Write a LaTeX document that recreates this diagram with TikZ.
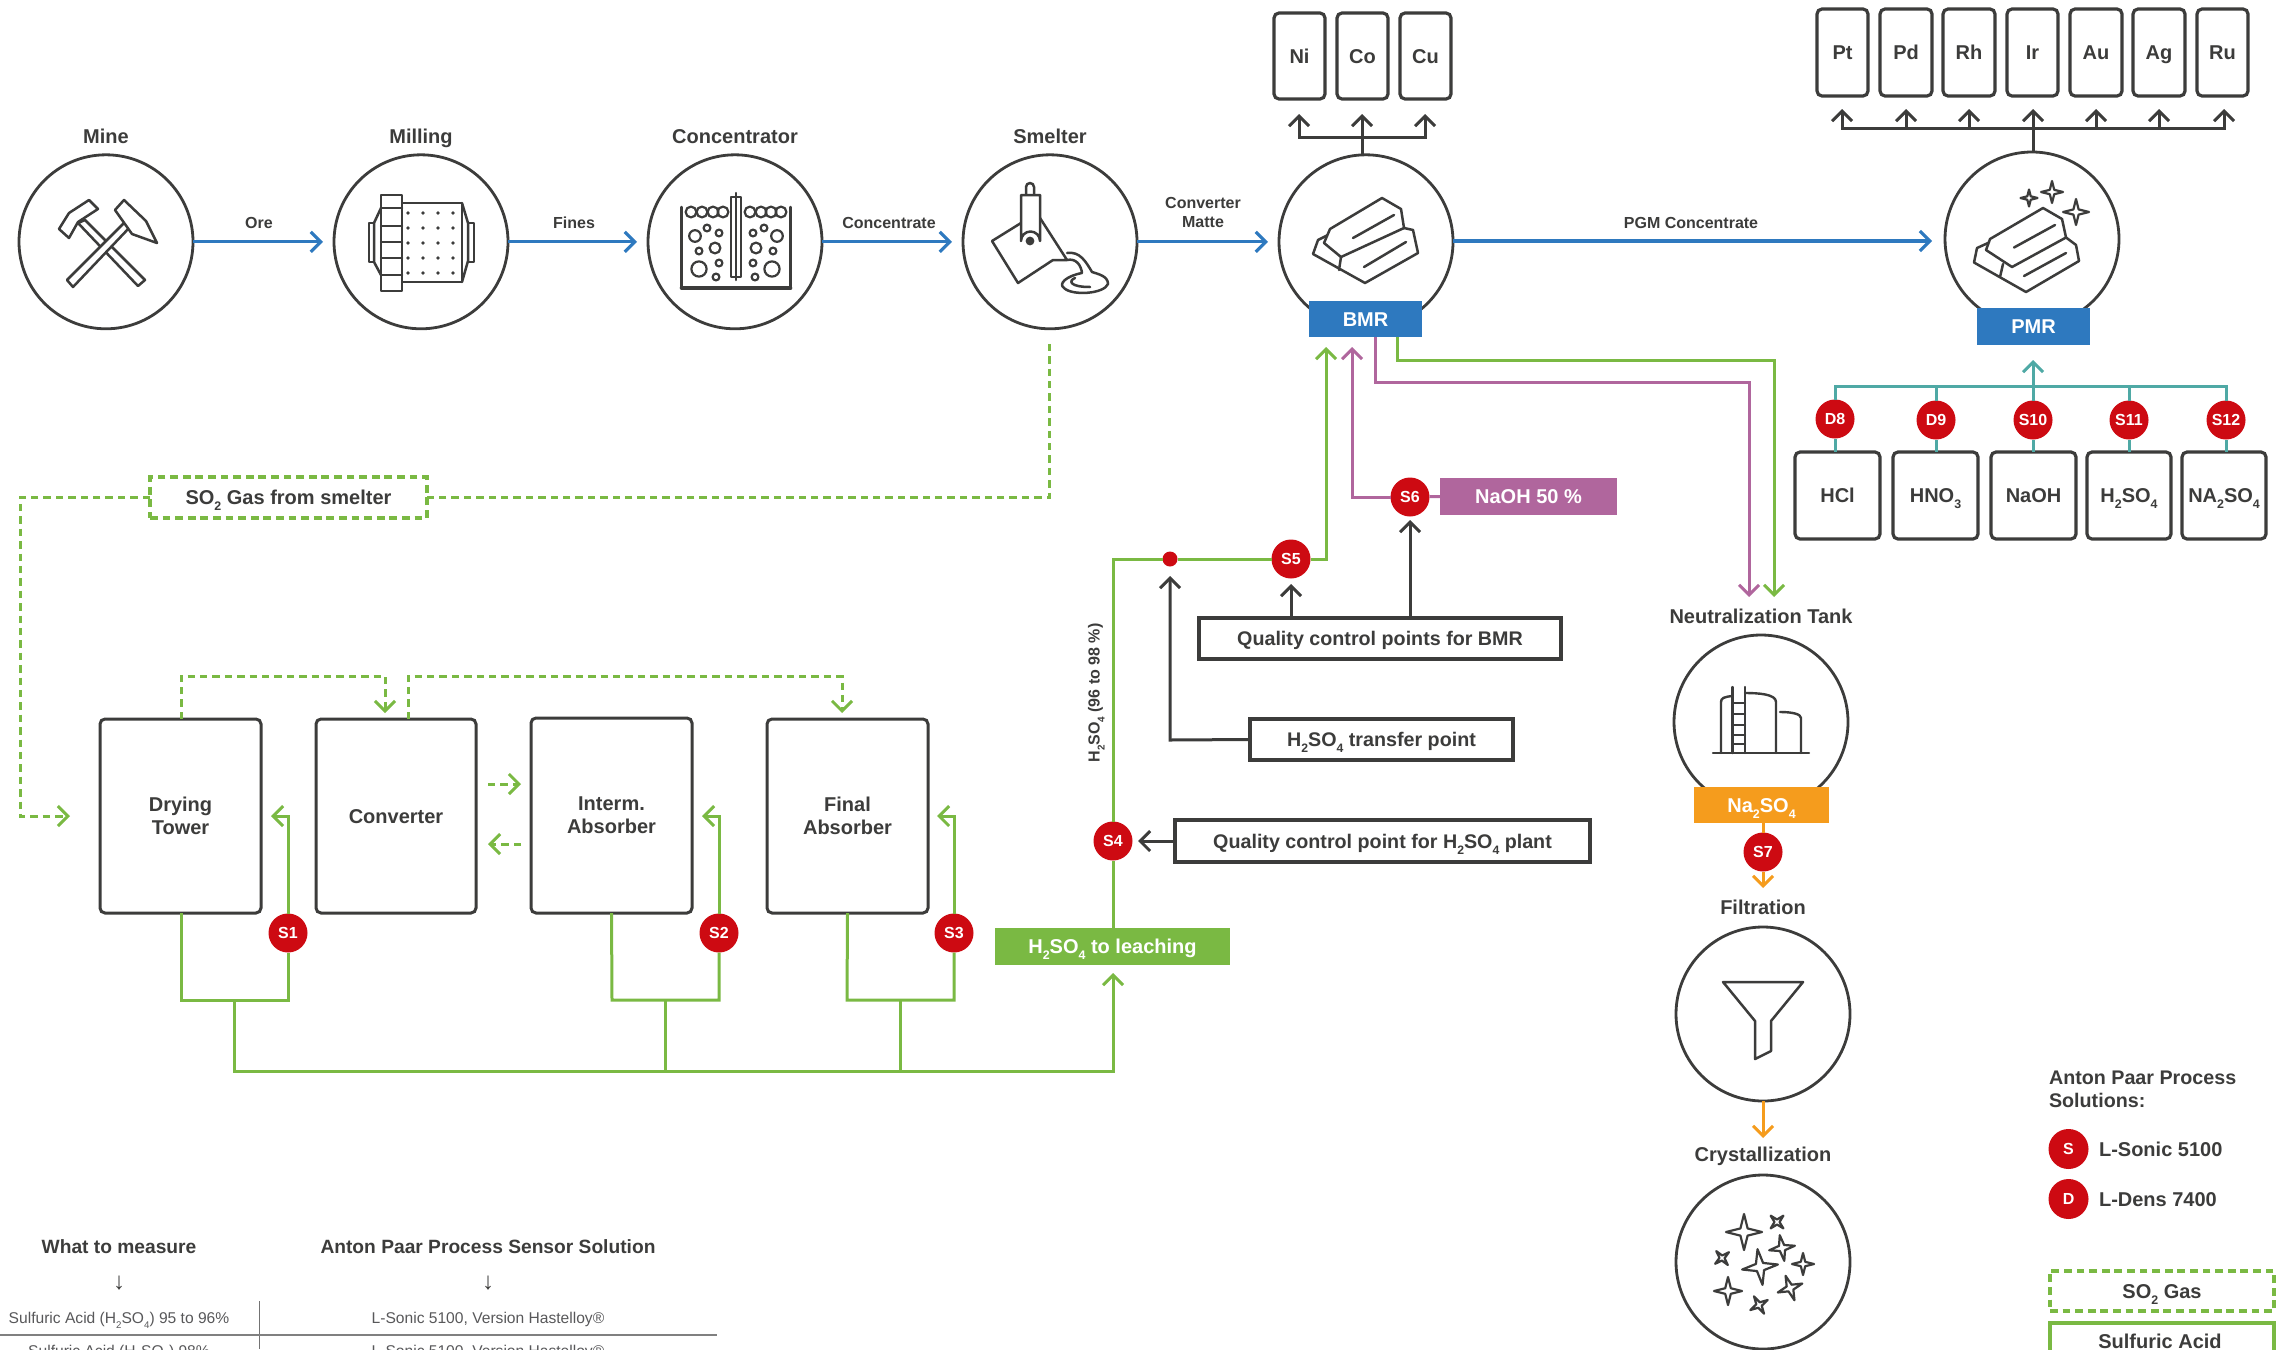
\documentclass[tikz,border=0pt]{standalone}
\usepackage{graphicx}
\usepackage{fontspec}
\setmainfont{Liberation Sans}
\usetikzlibrary{arrows.meta}
\definecolor{dk}{HTML}{3C3C3B}
\definecolor{bl}{HTML}{2E79BF}
\definecolor{gr}{HTML}{7AB943}
\definecolor{pu}{HTML}{B0669D}
\definecolor{og}{HTML}{F59C1D}
\definecolor{rd}{HTML}{CD0A12}
\definecolor{te}{HTML}{4FA9A5}
\definecolor{tb}{HTML}{58585A}
\newcommand\fs[1]{\fontsize{#1}{#1}\selectfont}
\newcommand\ssub[1]{\raisebox{-.3em}{\scalebox{.62}{#1}}}
\tikzset{
  every node/.style={inner sep=0pt,outer sep=0pt,text=dk},
  one/.style={text height=7.1pt,text depth=0pt},
  ones/.style={text height=5.7pt,text depth=0pt},
  barb/.style={-{Straight Barb[length=5pt,width=10pt]}},
  proc/.style={circle,draw=dk,line width=1.4pt,fill=white,minimum size=87pt},
  ttl/.style={font=\bfseries\fs{10},align=center},
  lbl/.style={font=\bfseries\fs{8},align=center},
  gbox/.style={draw=dk,line width=1.6pt,rounded corners=2.5pt,fill=white,font=\bfseries\fs{10},align=center},
  qbox/.style={draw=dk,line width=1.7pt,fill=white,font=\bfseries\fs{9.85},align=center},
  tag/.style={font=\bfseries\fs{10},text=white,align=center},
  badge/.style={circle,fill=rd,minimum size=19.5pt,font=\bfseries\fs{8},text=white},
  bline/.style={draw=bl,line width=1.6pt,barb},
  gline/.style={draw=gr,line width=1.5pt},
  gdash/.style={draw=gr,line width=1.5pt,dash pattern=on 3.7pt off 2.5pt},
  gdbox/.style={draw=gr,line width=1.9pt,dash pattern=on 3.9pt off 2.4pt,fill=white,font=\bfseries\fs{10},align=center},
  pline/.style={draw=pu,line width=1.5pt},
  oline/.style={draw=og,line width=1.5pt},
  tline/.style={draw=te,line width=1.5pt},
  dline/.style={draw=dk,line width=1.5pt},
  icon/.style={draw=dk,line width=1.25pt,line join=round,line cap=round},
  tbh/.style={font=\bfseries\fs{9.6},text=dk},
  tbb/.style={font=\fs{7.8},text=tb}
}
\newcommand\cbox[7]{\node[#1,minimum width={(#5-#3)*0.5pt},minimum height={(#6-#4)*0.5pt}] (#2) at ({(#3+#5)/2},{(#4+#6)/2}) {#7};}
\newcommand\sparkle[4]{\begin{scope}[shift={(#1,#2)},rotate=#4]
\draw[icon,line width=1.1pt] (#3,0) -- ({.2*#3},{.2*#3}) -- (0,#3) -- ({-.2*#3},{.2*#3}) -- (-#3,0) -- ({-.2*#3},{-.2*#3}) -- (0,-#3) -- ({.2*#3},{-.2*#3}) -- cycle;
\end{scope}}
\begin{document}
\begin{tikzpicture}[x=0.5pt,y=-0.5pt]
\useasboundingbox (0,0) rectangle (2278,1349);
\clip (0,0) rectangle (2278,1349);
% process circles
\node[proc] (mine) at (106,241.8) {};
\node[proc] (mill) at (421,241.8) {};
\node[proc] (conc) at (735,241.8) {};
\node[proc] (smel) at (1050,241.8) {};
\node[proc] (bmr) at (1366,241.8) {};
\node[proc] (pmr) at (2032,239) {};
\node[proc] (neut) at (1761,722) {};
\node[proc] (filt) at (1763,1014) {};
\node[proc] (crys) at (1763,1262) {};
% titles
\node[ttl,one] (tmine) at (106,136) {Mine};
\node[ttl,one] (tmill) at (421,136) {Milling};
\node[ttl,one] (tconc) at (735,136) {Concentrator};
\node[ttl,one] (tsmel) at (1050,136) {Smelter};
\node[ttl,one] (tneut) at (1761,616) {Neutralization Tank};
\node[ttl,one] (tfilt) at (1763,907) {Filtration};
\node[ttl,one] (tcrys) at (1763,1154) {Crystallization};
% blue flow
\draw[bline,shorten >=5.5pt] (mine) -- (mill);
\draw[bline,shorten >=5.5pt] (mill) -- (conc);
\draw[bline,shorten >=5.5pt] (conc) -- (smel);
\draw[bline,shorten >=5.5pt] (smel) -- (bmr);
\coordinate (pmrin) at (1932,241);
\draw[bline] (bmr.east) ++(0,-0.8) -- (pmrin);
\node[lbl,ones] (lore) at (259,223) {Ore};
\node[lbl,ones] (lfin) at (574,223) {Fines};
\node[lbl,ones] (lcon) at (889,223) {Concentrate};
\node[lbl] (lmat) at (1203,212.5) {Converter\\[1.5pt]Matte};
\node[lbl,ones] (lpgm) at (1691,223) {PGM Concentrate};
% tags
\cbox{fill=bl,tag,one}{bmrtag}{1309}{301}{1422}{337}{BMR}
\cbox{fill=bl,tag,one}{pmrtag}{1977}{308}{2090}{345}{PMR}
\cbox{fill=og,tag,one}{natag}{1694}{787}{1829}{823}{Na\ssub{2}SO\ssub{4}}
\cbox{fill=pu,tag,one}{naoh}{1440}{478}{1617}{515}{NaOH 50 \%}
\cbox{fill=gr,tag,one}{leach}{995}{928}{1230}{965}{H\ssub{2}SO\ssub{4} to leaching}
% base metals
\cbox{gbox,one}{ni}{1274}{13}{1325}{99}{Ni}
\cbox{gbox,one}{co}{1337}{13}{1388}{99}{Co}
\cbox{gbox,one}{cu}{1400}{13}{1451}{99}{Cu}
\coordinate (fb) at (1362,137);
\draw[dline] (bmr.north -| fb) -- (fb);
\draw[dline,barb] (fb) -- (1362,114);
\draw[dline,barb] (fb) -- (1299,137) -- (1299,114);
\draw[dline,barb] (fb) -- (1425,137) -- (1425,114);
% precious metals
\cbox{gbox,one}{pt}{1817}{9}{1868}{96}{Pt}
\cbox{gbox,one}{pd}{1880}{9}{1932}{96}{Pd}
\cbox{gbox,one}{rh}{1943}{9}{1995}{96}{Rh}
\cbox{gbox,one}{ir}{2007}{9}{2058}{96}{Ir}
\cbox{gbox,one}{au}{2070}{9}{2122}{96}{Au}
\cbox{gbox,one}{ag}{2133}{9}{2185}{96}{Ag}
\cbox{gbox,one}{ru}{2197}{9}{2248}{96}{Ru}
\coordinate (fp) at (2033,128);
\draw[dline] (pmr.north -| fp) -- (fp);
\draw[dline,barb] (fp) -- (2033,109);
\foreach \xx in {1842,1906,1969,2096,2159,2224}{\draw[dline,barb] (fp) -- (\xx,128) -- (\xx,109);}
% reagents
\cbox{gbox,one}{hcl}{1795}{452}{1880}{539}{HCl}
\cbox{gbox,one}{hno}{1893}{452}{1978}{539}{HNO\ssub{3}}
\cbox{gbox,one}{nao}{1991}{452}{2076}{539}{NaOH}
\cbox{gbox,one}{hso}{2087}{452}{2171}{539}{H\ssub{2}SO\ssub{4}}
\cbox{gbox,one}{nas}{2182}{452}{2266}{539}{NA\ssub{2}SO\ssub{4}}
\node[badge,ones] (d8) at (1835,419) {D8};
\node[badge,ones] (d9) at (1936,420) {D9};
\node[badge,ones] (s10) at (2033,420) {S10};
\node[badge,ones] (s11) at (2129,420) {S11};
\node[badge,ones] (s12) at (2226,420) {S12};
\coordinate (ft) at (2033,386);
\draw[tline,barb] (s10) -- (2033,360);
\draw[tline] (d8) -- (1835,386) -- (2226,386) -- (s12);
\draw[tline] (d9) -- (1936,386);
\draw[tline] (s11) -- (2129,386);
\draw[tline] (hcl.north -| d8) -- (d8);
\draw[tline] (hno.north -| d9) -- (d9);
\draw[tline] (nao.north -| s10) -- (s10);
\draw[tline] (hso.north -| s11) -- (s11);
\draw[tline] (nas.north -| s12) -- (s12);
% SO2 gas
\cbox{gdbox,one}{so2}{150}{477}{427}{518}{SO\ssub{2} Gas from smelter}
\coordinate (so2c) at (1049,497.5);
\draw[gdash] (smel.south -| so2c) ++(0,15) -- (so2c) -- (so2.east);
\draw[gdash,barb] (so2.west) -- (20,497.5) -- (20,816) -- (70,816);
% towers
\cbox{gbox,line width=1.5pt,one}{cvt}{316}{719}{476}{913}{Converter}
\cbox{gbox,line width=1.5pt}{dry}{100}{719}{261}{913}{Drying\\[1.6pt]Tower}
\cbox{gbox,line width=1.5pt}{int}{531}{718}{692}{913}{Interm.\\[1.6pt]Absorber}
\cbox{gbox,line width=1.5pt}{fin}{767}{719}{928}{913}{Final\\[1.6pt]Absorber}
\node[badge,ones] (s1) at (288,933) {S1};
\node[badge,ones] (s2) at (719,933) {S2};
\node[badge,ones] (s3) at (954,933) {S3};
\coordinate (a1) at (181,676);
\draw[gdash,barb] (dry.north -| a1) -- (a1) -- (385,676) -- (385,713);
\coordinate (a2) at (408,676);
\draw[gdash,barb] (cvt.north -| a2) -- (a2) -- (842,676) -- (842,713);
\draw[gdash,barb] (488,784) -- (521,784);
\draw[gdash,barb] (521,844) -- (488,844);
\draw[gline,barb] (s1) -- (288,816) -- (271,816);
\draw[gline,barb] (s2) -- (719,816) -- (702,816);
\draw[gline,barb] (s3) -- (954,816) -- (937,816);
\draw[gline] (s1) -- (288,1000) -- (181,1000) -- (dry.south -| a1);
\draw[gline] (s2) -- (719,1000) -- (612,1000) -- (int.south);
\draw[gline] (s3) -- (954,1000) -- (847,1000) -- (fin.south);
\draw[gline,barb] (234,1000) -- (234,1071) -- (1113,1071) -- (1113,973);
\draw[gline] (665,1000) -- (665,1071);
\draw[gline] (900,1000) -- (900,1071);
% sulfuric acid
\node[badge,ones] (s4) at (1113,841) {S4};
\node[badge,ones] (s5) at (1291,559) {S5};
\node[badge,ones] (s6) at (1410,497) {S6};
\node[circle,fill=rd,minimum size=7.5pt] (dot) at (1170,559) {};
\draw[gline] (leach.north -| s4) -- (s4);
\draw[gline] (s4) -- (1113,559) -- (dot);
\draw[gline] (dot) -- (s5);
\coordinate (g5) at (1326,559);
\draw[gline,barb] (s5) -- (g5) -- (1326,347);
\draw[pline] (naoh.west) -- (s6);
\coordinate (p6) at (1352,497);
\draw[pline,barb] (s6) -- (p6) -- (1352,347);
\coordinate (pout) at (1375,382);
\draw[pline,barb] (bmrtag.south -| pout) -- (pout) -- (1749,382) -- (1749,597);
\coordinate (gout) at (1397,360);
\draw[gline,barb] (bmrtag.south -| gout) -- (gout) -- (1774,360) -- (1774,597);
\node[font=\bfseries\fs{8},rotate=90,ones] (lh2) at (1094,693) {H\ssub{2}SO\ssub{4} (96 to 98 \%)};
% quality boxes
\cbox{qbox,one}{qbmr}{1199}{618}{1561}{659}{Quality control points for BMR}
\cbox{qbox,one}{qtr}{1250}{719}{1513}{760}{H\ssub{2}SO\ssub{4} transfer point}
\cbox{qbox,one}{qpl}{1175}{820}{1590}{862}{Quality control point for H\ssub{2}SO\ssub{4} plant}
\draw[dline,barb] (qbmr.north -| s5) -- (1291,584);
\draw[dline,barb] (qbmr.north -| s6) -- (1410,520);
\draw[dline,barb] (qtr.west) -- (1170,740) -- (1170,576);
\draw[dline,barb] (qpl.west) -- (1138,841);
% sodium sulfate
\node[badge,ones] (s7) at (1763,852) {S7};
\draw[oline] (natag.south -| s7) -- (s7);
\draw[oline,barb] (s7) -- (1763,888);
\draw[oline,barb] (filt.south) -- (1763,1138);
% legend
\node[ttl,font=\bfseries\fs{9.85},align=left,anchor=west] (lgt) at (2049,1089) {Anton Paar Process\\[1.6pt]Solutions:};
\node[badge,minimum size=20pt,ones] (lgs) at (2068.5,1149) {S};
\node[badge,minimum size=20pt,ones] (lgd) at (2068.5,1199) {D};
\node[ttl,anchor=west,one] (lgs2) at (2099,1149) {L-Sonic 5100};
\node[ttl,anchor=west,one] (lgd2) at (2099,1199) {L-Dens 7400};
\cbox{gdbox,one}{lg1}{2050}{1271}{2274}{1311}{SO\ssub{2} Gas}
\draw[gline,line width=2pt] (2050,1360) -- (2050,1323) -- (2274,1323) -- (2274,1360);
\node[ttl,one] (lg2) at (2160,1341) {Sulfuric Acid};
% table
\node[tbh,one] (th1) at (119,1246) {What to measure};
\node[tbh,one] (th2) at (488,1246) {Anton Paar Process Sensor Solution};
\node[font=\fs{12}] (ta1) at (119,1283) {↓};
\node[font=\fs{12}] (ta2) at (488,1283) {↓};
\node[tbb,ones] (tr1) at (119,1318) {Sulfuric Acid (H\ssub{2}SO\ssub{4}) 95 to 96\%};
\node[tbb,ones] (tr2) at (488,1318) {L-Sonic 5100, Version Hastelloy®};
\node[tbb,ones] (tr3) at (119,1351) {Sulfuric Acid (H\ssub{2}SO\ssub{4}) 98\%};
\node[tbb,ones] (tr4) at (488,1351) {L-Sonic 5100, Version Hastelloy®};
\draw[draw=black!55,line width=.5pt] (259,1301) -- (259,1349);
\draw[draw=black!50,line width=.7pt] (0,1335) -- (717,1335);
% ICONS
% mine
\draw[icon,fill=white] (78,223) -- (85,220) -- (145,280) -- (138,286) -- cycle;
\draw[icon,fill=white] (59,229) -- (69,213) -- (89,200) -- (98,209) -- (78,222) -- (69,238) -- cycle;
\draw[icon,fill=white] (124,223) -- (130,227) -- (73,287) -- (67,280) -- cycle;
\draw[icon,fill=white] (115,210) -- (124,200) -- (146,221) -- (157,243) -- (132,234) -- cycle;
% mill
\draw[icon] (402,203) rectangle (462,282);
\draw[icon] (381,195) rectangle (402,291);
\foreach \yy in {208,226,242,258,275}{\draw[icon] (381,\yy) -- (402,\yy);}
\draw[icon] (462,203) -- (468,223) -- (468,261) -- (462,282);
\draw[icon] (468,223) rectangle (474,262);
\draw[icon] (381,208) -- (374,223) -- (374,262) -- (381,275);
\draw[icon] (369,223) rectangle (374,262);
\foreach \xx in {408,423,438,453}{\foreach \yy in {213,228,243,258,273}{\fill[dk] (\xx,\yy) circle[radius=0.9pt];}}
% concentrator
\draw[icon] (681.5,207) -- (681.5,288) -- (790.5,288) -- (790.5,207);
\draw[icon,line width=1.8pt] (681.5,288) -- (790.5,288);
\draw[icon] (731,197) rectangle (741,277);
\draw[icon] (735.8,193) -- (735.8,280);
\foreach \xx in {691,702,713,723,750,761,771,781}{\draw[icon,line width=1.1pt] (\xx,212) circle[radius=2.7pt];}
\foreach \xx/\yy/\rr in {695/236/2.9,707/228/1.7,719/233/1.7,699/251/1.7,715/248/2.7,699/269/3.8,719/263/1.7,716/277/1.7,777/236/2.9,764/228/1.7,753/233/1.7,773/251/1.7,756/248/2.7,772/269/3.8,753/263/1.7,755/277/1.7}{\draw[icon,line width=1.1pt] (\xx,\yy) circle[radius=\rr pt];}
% smelter
\draw[icon,fill=white] (992,241) -- (1021,223) -- (1040,218) -- (1067,260) -- (1053,260) -- (1018,283) -- cycle;
\draw[icon,fill=white] (1026,195) -- (1026,187) arc[start angle=180,end angle=0,radius=2pt] -- (1034,195);
\draw[icon,fill=white] (1021,195) -- (1040,195) -- (1040,241) arc[start angle=0,end angle=180,radius=4.75pt] -- cycle;
\fill[dk] (1030,241) circle[radius=2.2pt];
\draw[icon] (1067,253) .. controls (1080,251) and (1086,262) .. (1092,272) .. controls (1098,274) and (1108,276) .. (1108,284) .. controls (1104,294) and (1072,296) .. (1064,288) .. controls (1058,284) and (1066,276) .. (1082,273) .. controls (1081,265) and (1076,258) .. (1067,260);
\draw[icon] (1075,278) .. controls (1068,281) and (1070,287) .. (1090,287);
% bmr bars
\draw[icon,fill=white] (1328,235) -- (1318,240) -- (1313,254) -- (1365,283) -- (1418,253) -- (1413,230) -- (1404,228) -- cycle;
\draw[icon] (1341,257) -- (1339,270);
\draw[icon,fill=white] (1382,198) -- (1401,209) -- (1404,228) -- (1341,257) -- (1324,243) -- (1330,229) -- cycle;
\draw[icon] (1353,238) -- (1394,215);
\draw[icon] (1364,267) -- (1406,242);
% pmr bars
\draw[icon,fill=white] (1988,243) -- (1977,248) -- (1974,262.5) -- (2026,292) -- (2079,261) -- (2076,245) -- (2066,237.5) -- cycle;
\draw[icon] (2003,264) -- (2000,277);
\draw[icon,fill=white] (2043,208) -- (2062,219) -- (2066,237.5) -- (2012,267) -- (1986,250) -- (1990,239) -- cycle;
\draw[icon] (2014,247.5) -- (2055,225);
\draw[icon] (2024,276) -- (2066,253);
\sparkle{2052}{192}{11}{0}
\sparkle{2029}{198}{8.5}{0}
\sparkle{2076}{212}{13}{0}
% tank
\draw[icon,line width=1.2pt] (1713,753) -- (1809,753);
\draw[icon,line width=1.2pt] (1721,753) -- (1721,702) .. controls (1721,698) and (1724,697) .. (1732,696);
\draw[icon,line width=1.2pt] (1745,693) .. controls (1758,693) and (1776,694) .. (1776,702) -- (1776,753);
\draw[icon,line width=1.2pt] (1732.5,687) -- (1732.5,753);
\draw[icon,line width=1.2pt] (1745,687) -- (1745,753);
\foreach \yy in {703,714,725,735,744}{\draw[icon,line width=1.2pt] (1732.5,\yy) -- (1745,\yy);}
\draw[icon,line width=1.2pt] (1780,712) .. controls (1792,712) and (1801,714) .. (1801,718) -- (1801,753);
% funnel
\draw[icon] (1723,982) -- (1803,982) -- (1771,1021) -- (1771,1051) -- (1755,1059) -- (1755,1021) -- cycle;
% crystals
\sparkle{1744}{1232}{18}{0}
\sparkle{1777}{1222}{9}{45}
\sparkle{1782}{1248}{13}{10}
\sparkle{1722}{1258}{9}{40}
\sparkle{1760}{1267}{18}{8}
\sparkle{1803}{1264}{11}{0}
\sparkle{1728}{1291}{14}{0}
\sparkle{1790}{1288}{13}{20}
\sparkle{1759}{1305}{10}{30}
\end{tikzpicture}
\end{document}
